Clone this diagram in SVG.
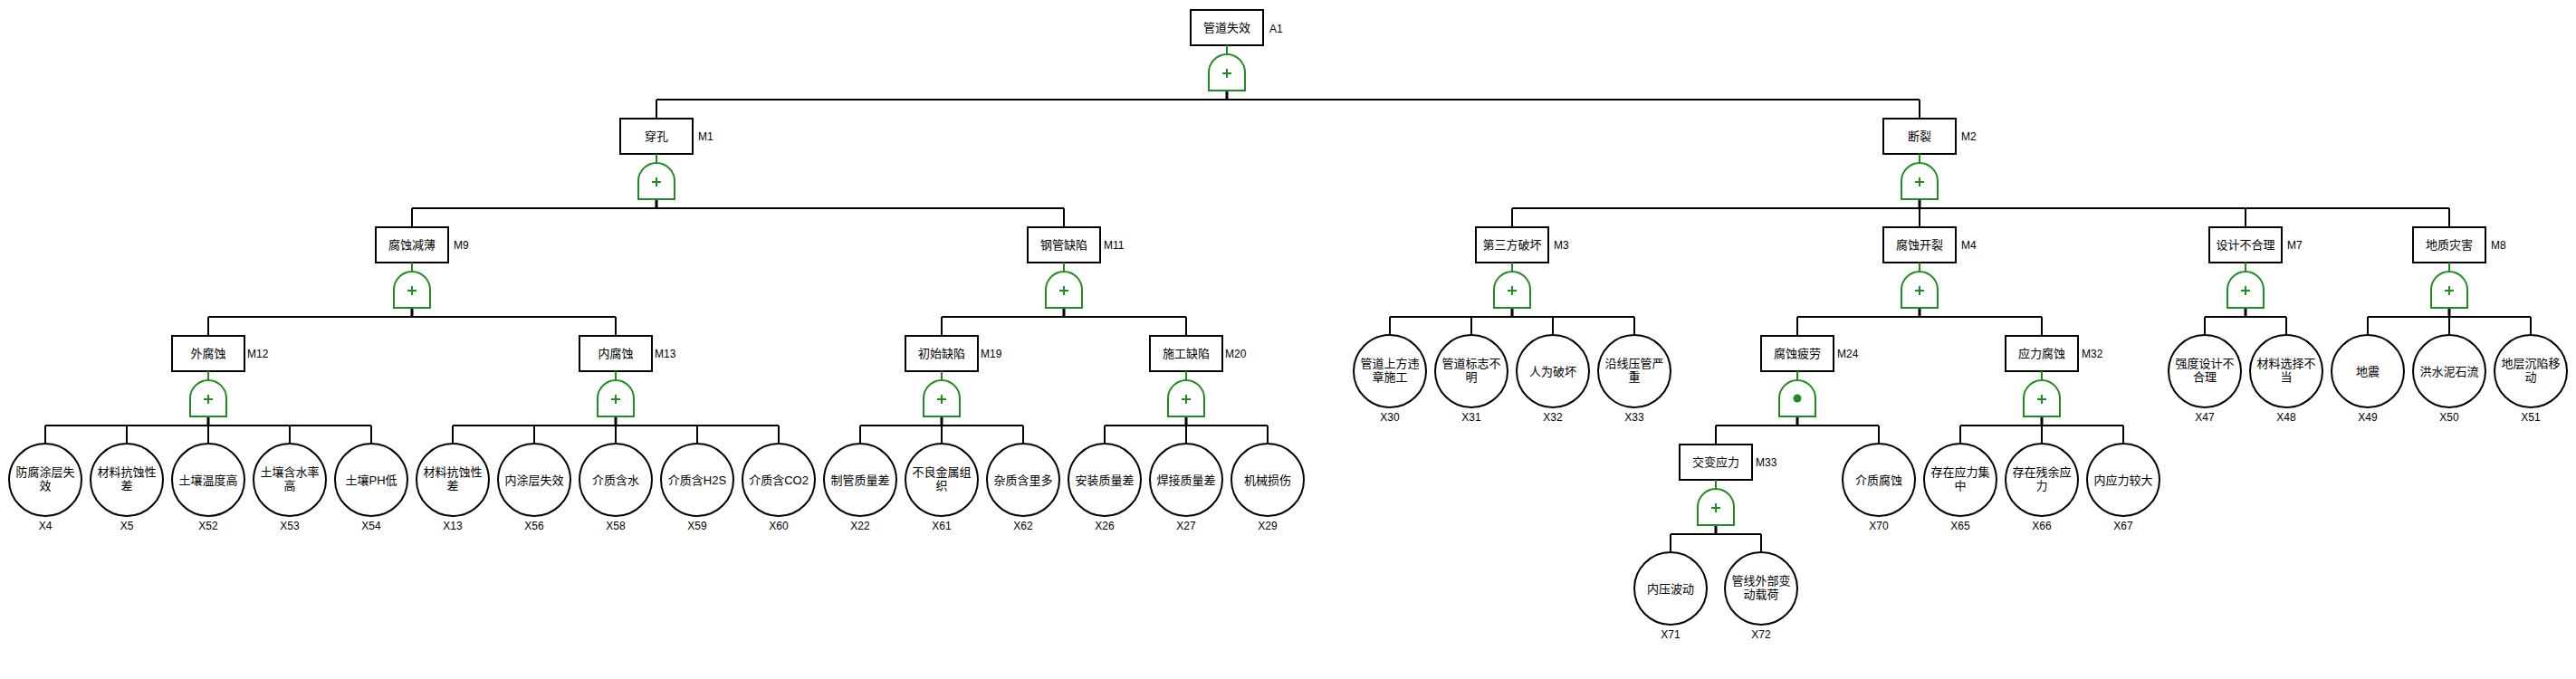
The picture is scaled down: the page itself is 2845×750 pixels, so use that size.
<svg xmlns="http://www.w3.org/2000/svg" width="2845" height="750" viewBox="0 0 2845 750">
<style>
.box{fill:#fff;stroke:#000;stroke-width:2}
.ev{fill:#fff;stroke:#000;stroke-width:2}
.gate{fill:#fff;stroke:#228B22;stroke-width:2}
.gs{stroke:#228B22;stroke-width:2;fill:none}
.ln{stroke:#000;stroke-width:2;fill:none}
.stem{stroke:#000;stroke-width:3;fill:none}
.t{font-family:"Liberation Sans","Noto Sans CJK SC",sans-serif;font-size:13px;text-anchor:middle;dominant-baseline:central;fill:#000}
.id{font-family:"Liberation Sans",sans-serif;font-size:12px;dominant-baseline:central;fill:#000}
.xid{font-family:"Liberation Sans",sans-serif;font-size:12px;text-anchor:middle;dominant-baseline:central;fill:#000}
</style>
<defs>
<g id="or">
<path class="gs" d="M0,-10 V0"/>
<path class="gate" d="M-20,40 V20 A20,20 0 0 1 20,20 V40 Z"/>
<path class="gs" d="M-5,21 H5 M0,16 V26"/>
</g>
<g id="pand">
<path class="gs" d="M0,-10 V0"/>
<path class="gate" d="M-20,40 V20 A20,20 0 0 1 20,20 V40 Z"/>
<circle cx="0" cy="20" r="4.5" fill="#228B22"/>
</g>
</defs>
<rect width="2845" height="750" fill="#fff"/>
<g id="connectors">
<path class="stem" d="M1355,100 V110 M725,220 V230 M2120,220 V230 M455,340 V350 M1175,340 V350 M1670,340 V350 M2120,340 V350 M2480,340 V350 M2705,340 V350 M230,460 V470 M680,460 V470 M1040,460 V470 M1310,460 V470 M1985,460 V470 M2255,460 V470 M1895,580 V590"/>
<path class="ln" d="M725,110 H2120 M725,110 V131 M2120,110 V131"/>
<path class="ln" d="M455,230 H1175 M455,230 V251 M1175,230 V251"/>
<path class="ln" d="M1670,230 H2705 M1670,230 V251 M2120,230 V251 M2480,230 V251 M2705,230 V251"/>
<path class="ln" d="M230,350 H680 M230,350 V371 M680,350 V371"/>
<path class="ln" d="M1040,350 H1310 M1040,350 V371 M1310,350 V371"/>
<path class="ln" d="M1535,350 H1805 M1535,350 V370 M1625,350 V370 M1715,350 V370 M1805,350 V370"/>
<path class="ln" d="M1985,350 H2255 M1985,350 V371 M2255,350 V371"/>
<path class="ln" d="M2435,350 H2525 M2435,350 V370 M2525,350 V370"/>
<path class="ln" d="M2615,350 H2795 M2615,350 V370 M2705,350 V370 M2795,350 V370"/>
<path class="ln" d="M50,470 H410 M50,470 V490 M140,470 V490 M230,470 V490 M320,470 V490 M410,470 V490"/>
<path class="ln" d="M500,470 H860 M500,470 V490 M590,470 V490 M680,470 V490 M770,470 V490 M860,470 V490"/>
<path class="ln" d="M950,470 H1130 M950,470 V490 M1040,470 V490 M1130,470 V490"/>
<path class="ln" d="M1220,470 H1400 M1220,470 V490 M1310,470 V490 M1400,470 V490"/>
<path class="ln" d="M1895,470 H2075 M1895,470 V491 M2075,470 V490"/>
<path class="ln" d="M2165,470 H2345 M2165,470 V490 M2255,470 V490 M2345,470 V490"/>
<path class="ln" d="M1845,590 H1945 M1845,590 V610 M1945,590 V610"/>
</g>

<g id="A1"><rect class="box" x="1315" y="11" width="80" height="39"/><text class="t" x="1355" y="30.5">管道失效</text><text class="id" x="1402" y="32">A1</text><use href="#or" x="1355" y="60"/></g>
<g id="M1"><rect class="box" x="685" y="131" width="80" height="39"/><text class="t" x="725" y="150.5">穿孔</text><text class="id" x="771" y="151">M1</text><use href="#or" x="725" y="180"/></g>
<g id="M2"><rect class="box" x="2080" y="131" width="80" height="39"/><text class="t" x="2120" y="150.5">断裂</text><text class="id" x="2166" y="151">M2</text><use href="#or" x="2120" y="180"/></g>
<g id="M9"><rect class="box" x="415" y="251" width="80" height="39"/><text class="t" x="455" y="270.5">腐蚀减薄</text><text class="id" x="501" y="271">M9</text><use href="#or" x="455" y="300"/></g>
<g id="M11"><rect class="box" x="1135" y="251" width="80" height="39"/><text class="t" x="1175" y="270.5">钢管缺陷</text><text class="id" x="1219" y="271">M11</text><use href="#or" x="1175" y="300"/></g>
<g id="M3"><rect class="box" x="1630" y="251" width="80" height="39"/><text class="t" x="1670" y="270.5">第三方破坏</text><text class="id" x="1716" y="271">M3</text><use href="#or" x="1670" y="300"/></g>
<g id="M4"><rect class="box" x="2080" y="251" width="80" height="39"/><text class="t" x="2120" y="270.5">腐蚀开裂</text><text class="id" x="2166" y="271">M4</text><use href="#or" x="2120" y="300"/></g>
<g id="M7"><rect class="box" x="2440" y="251" width="80" height="39"/><text class="t" x="2480" y="270.5">设计不合理</text><text class="id" x="2526" y="271">M7</text><use href="#or" x="2480" y="300"/></g>
<g id="M8"><rect class="box" x="2665" y="251" width="80" height="39"/><text class="t" x="2705" y="270.5">地质灾害</text><text class="id" x="2751" y="271">M8</text><use href="#or" x="2705" y="300"/></g>
<g id="M12"><rect class="box" x="190" y="371" width="80" height="39"/><text class="t" x="230" y="390.5">外腐蚀</text><text class="id" x="273" y="391">M12</text><use href="#or" x="230" y="420"/></g>
<g id="M13"><rect class="box" x="640" y="371" width="80" height="39"/><text class="t" x="680" y="390.5">内腐蚀</text><text class="id" x="723" y="391">M13</text><use href="#or" x="680" y="420"/></g>
<g id="M19"><rect class="box" x="1000" y="371" width="80" height="39"/><text class="t" x="1040" y="390.5">初始缺陷</text><text class="id" x="1083" y="391">M19</text><use href="#or" x="1040" y="420"/></g>
<g id="M20"><rect class="box" x="1270" y="371" width="80" height="39"/><text class="t" x="1310" y="390.5">施工缺陷</text><text class="id" x="1353" y="391">M20</text><use href="#or" x="1310" y="420"/></g>
<g id="M24"><rect class="box" x="1945" y="371" width="80" height="39"/><text class="t" x="1985" y="390.5">腐蚀疲劳</text><text class="id" x="2029" y="391">M24</text><use href="#pand" x="1985" y="420"/></g>
<g id="M32"><rect class="box" x="2215" y="371" width="80" height="39"/><text class="t" x="2255" y="390.5">应力腐蚀</text><text class="id" x="2299" y="391">M32</text><use href="#or" x="2255" y="420"/></g>
<g id="M33"><rect class="box" x="1855" y="491" width="80" height="39"/><text class="t" x="1895" y="510.5">交变应力</text><text class="id" x="1939" y="511">M33</text><use href="#or" x="1895" y="540"/></g>

<g id="X30"><circle class="ev" cx="1535" cy="410" r="40"/><text class="t" x="1535" y="401">管道上方违</text><text class="t" x="1535" y="416">章施工</text><text class="xid" x="1535" y="461">X30</text></g>
<g id="X31"><circle class="ev" cx="1625" cy="410" r="40"/><text class="t" x="1625" y="401">管道标志不</text><text class="t" x="1625" y="416">明</text><text class="xid" x="1625" y="461">X31</text></g>
<g id="X32"><circle class="ev" cx="1715" cy="410" r="40"/><text class="t" x="1715" y="410">人为破坏</text><text class="xid" x="1715" y="461">X32</text></g>
<g id="X33"><circle class="ev" cx="1805" cy="410" r="40"/><text class="t" x="1805" y="401">沿线压管严</text><text class="t" x="1805" y="416">重</text><text class="xid" x="1805" y="461">X33</text></g>
<g id="X47"><circle class="ev" cx="2435" cy="410" r="40"/><text class="t" x="2435" y="401">强度设计不</text><text class="t" x="2435" y="416">合理</text><text class="xid" x="2435" y="461">X47</text></g>
<g id="X48"><circle class="ev" cx="2525" cy="410" r="40"/><text class="t" x="2525" y="401">材料选择不</text><text class="t" x="2525" y="416">当</text><text class="xid" x="2525" y="461">X48</text></g>
<g id="X49"><circle class="ev" cx="2615" cy="410" r="40"/><text class="t" x="2615" y="410">地震</text><text class="xid" x="2615" y="461">X49</text></g>
<g id="X50"><circle class="ev" cx="2705" cy="410" r="40"/><text class="t" x="2705" y="410">洪水泥石流</text><text class="xid" x="2705" y="461">X50</text></g>
<g id="X51"><circle class="ev" cx="2795" cy="410" r="40"/><text class="t" x="2795" y="401">地层沉陷移</text><text class="t" x="2795" y="416">动</text><text class="xid" x="2795" y="461">X51</text></g>

<g id="X4"><circle class="ev" cx="50" cy="530" r="40"/><text class="t" x="50" y="521">防腐涂层失</text><text class="t" x="50" y="536">效</text><text class="xid" x="50" y="581">X4</text></g>
<g id="X5"><circle class="ev" cx="140" cy="530" r="40"/><text class="t" x="140" y="521">材料抗蚀性</text><text class="t" x="140" y="536">差</text><text class="xid" x="140" y="581">X5</text></g>
<g id="X52"><circle class="ev" cx="230" cy="530" r="40"/><text class="t" x="230" y="530">土壤温度高</text><text class="xid" x="230" y="581">X52</text></g>
<g id="X53"><circle class="ev" cx="320" cy="530" r="40"/><text class="t" x="320" y="521">土壤含水率</text><text class="t" x="320" y="536">高</text><text class="xid" x="320" y="581">X53</text></g>
<g id="X54"><circle class="ev" cx="410" cy="530" r="40"/><text class="t" x="410" y="530">土壤PH低</text><text class="xid" x="410" y="581">X54</text></g>
<g id="X13"><circle class="ev" cx="500" cy="530" r="40"/><text class="t" x="500" y="521">材料抗蚀性</text><text class="t" x="500" y="536">差</text><text class="xid" x="500" y="581">X13</text></g>
<g id="X56"><circle class="ev" cx="590" cy="530" r="40"/><text class="t" x="590" y="530">内涂层失效</text><text class="xid" x="590" y="581">X56</text></g>
<g id="X58"><circle class="ev" cx="680" cy="530" r="40"/><text class="t" x="680" y="530">介质含水</text><text class="xid" x="680" y="581">X58</text></g>
<g id="X59"><circle class="ev" cx="770" cy="530" r="40"/><text class="t" x="770" y="530">介质含H2S</text><text class="xid" x="770" y="581">X59</text></g>
<g id="X60"><circle class="ev" cx="860" cy="530" r="40"/><text class="t" x="860" y="530">介质含CO2</text><text class="xid" x="860" y="581">X60</text></g>
<g id="X22"><circle class="ev" cx="950" cy="530" r="40"/><text class="t" x="950" y="530">制管质量差</text><text class="xid" x="950" y="581">X22</text></g>
<g id="X61"><circle class="ev" cx="1040" cy="530" r="40"/><text class="t" x="1040" y="521">不良金属组</text><text class="t" x="1040" y="536">织</text><text class="xid" x="1040" y="581">X61</text></g>
<g id="X62"><circle class="ev" cx="1130" cy="530" r="40"/><text class="t" x="1130" y="530">杂质含里多</text><text class="xid" x="1130" y="581">X62</text></g>
<g id="X26"><circle class="ev" cx="1220" cy="530" r="40"/><text class="t" x="1220" y="530">安装质量差</text><text class="xid" x="1220" y="581">X26</text></g>
<g id="X27"><circle class="ev" cx="1310" cy="530" r="40"/><text class="t" x="1310" y="530">焊接质量差</text><text class="xid" x="1310" y="581">X27</text></g>
<g id="X29"><circle class="ev" cx="1400" cy="530" r="40"/><text class="t" x="1400" y="530">机械损伤</text><text class="xid" x="1400" y="581">X29</text></g>
<g id="X70"><circle class="ev" cx="2075" cy="530" r="40"/><text class="t" x="2075" y="530">介质腐蚀</text><text class="xid" x="2075" y="581">X70</text></g>
<g id="X65"><circle class="ev" cx="2165" cy="530" r="40"/><text class="t" x="2165" y="521">存在应力集</text><text class="t" x="2165" y="536">中</text><text class="xid" x="2165" y="581">X65</text></g>
<g id="X66"><circle class="ev" cx="2255" cy="530" r="40"/><text class="t" x="2255" y="521">存在残余应</text><text class="t" x="2255" y="536">力</text><text class="xid" x="2255" y="581">X66</text></g>
<g id="X67"><circle class="ev" cx="2345" cy="530" r="40"/><text class="t" x="2345" y="530">内应力较大</text><text class="xid" x="2345" y="581">X67</text></g>

<g id="X71"><circle class="ev" cx="1845" cy="650" r="40"/><text class="t" x="1845" y="650">内压波动</text><text class="xid" x="1845" y="701">X71</text></g>
<g id="X72"><circle class="ev" cx="1945" cy="650" r="40"/><text class="t" x="1945" y="641">管线外部变</text><text class="t" x="1945" y="656">动载荷</text><text class="xid" x="1945" y="701">X72</text></g>
</svg>
